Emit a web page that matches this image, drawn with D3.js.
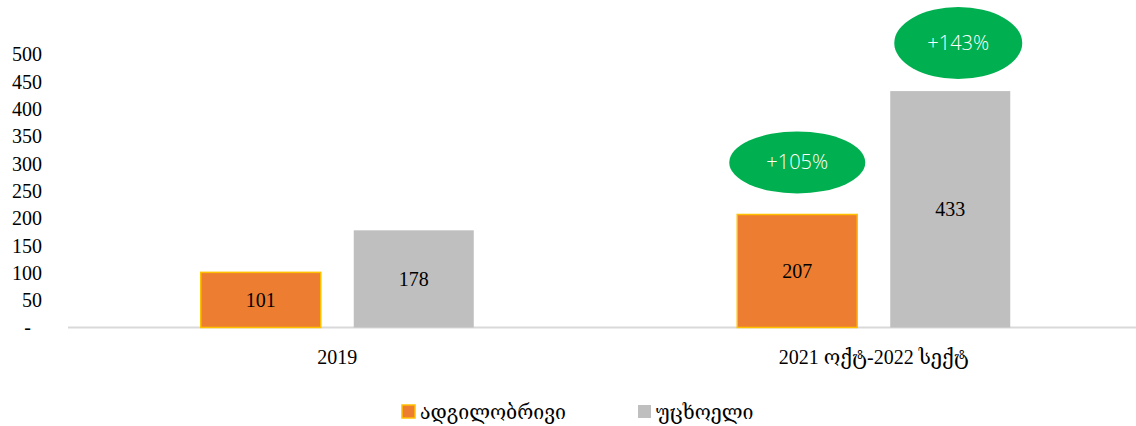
<!DOCTYPE html>
<html><head><meta charset="utf-8">
<script src="https://cdn.jsdelivr.net/npm/d3@7"></script>
<style>body{margin:0;background:#fff}</style>
</head><body>
<svg id="c" width="1136" height="426"></svg>
<script>
const categories = ["2019", "2021 ოქტ-2022 სექტ"];
const seriesNames = ["ადგილობრივი", "უცხოელი"];
const localValues = [101, 207];
const foreignValues = [178, 433];
const growthLabels = ["+105%", "+143%"];
const yTicks = [0, 50, 100, 150, 200, 250, 300, 350, 400, 450, 500];

const colors = ["#ED7D31", "#BFBFBF"];
const strokes = ["#FFC000", "#BFBFBF"];
const serif = "'Liberation Serif','DejaVu Serif',serif";

const svg = d3.select("#c");
const x0 = d3.scaleBand().domain(categories).range([69, 1142]).paddingInner(0).paddingOuter(0);
const y = d3.scaleLinear().domain([0, 500]).range([327.5, 54.5]);
const barW = 120, gap = 33;

// axis line
svg.append("line").attr("x1", 68).attr("x2", 1136).attr("y1", y(0)).attr("y2", y(0))
  .attr("stroke", "#D9D9D9").attr("stroke-width", 2);

// y axis
const yAxis = d3.axisLeft(y).tickValues(yTicks).tickSize(0).tickPadding(0)
  .tickFormat(d => d === 0 ? "-" : d);
const yg = svg.append("g").attr("transform", "translate(42,0)").call(yAxis);
yg.select(".domain").remove();
yg.selectAll("text").attr("font-family", serif).attr("font-size", 20).attr("fill", "#000")
  .attr("dx", d => d === 0 ? -11 : 0);

const data = categories.map((c, i) => ({c, vals: [localValues[i], foreignValues[i]]}));

data.forEach((d, i) => {
  const cx = x0(d.c) + x0.bandwidth() / 2;
  d.vals.forEach((v, s) => {
    const bx = cx + (s === 0 ? -(gap / 2 + barW) : gap / 2);
    svg.append("rect").attr("x", bx).attr("y", y(v)).attr("width", barW).attr("height", y(0) - y(v))
      .attr("fill", colors[s]).attr("stroke", s === 0 ? strokes[s] : "none").attr("stroke-width", 1.5);
    svg.append("text").attr("x", bx + barW / 2).attr("y", (y(v) + y(0)) / 2).attr("dy", "0.35em")
      .attr("text-anchor", "middle").attr("font-family", serif).attr("font-size", 20).text(v);
  });
  svg.append("text").attr("x", cx).attr("y", 357).attr("dy", "0.35em").attr("text-anchor", "middle")
    .attr("font-family", serif).attr("font-size", 20).text(d.c);
});

// growth ellipses over second category
const c2 = x0(categories[1]) + x0.bandwidth() / 2;
const ell = [
  {x: c2 - gap / 2 - barW / 2, v: localValues[1], rx: 68, ry: 31, off: 52, lab: growthLabels[0]},
  {x: c2 + gap / 2 + barW / 2 + 8, v: foreignValues[1], rx: 64, ry: 36, off: 48, lab: growthLabels[1]}
];
ell.forEach(e => {
  const ey = y(e.v) - e.off;
  svg.append("ellipse").attr("cx", e.x).attr("cy", ey).attr("rx", e.rx).attr("ry", e.ry).attr("fill", "#00B050");
  svg.append("text").attr("x", e.x).attr("y", ey).attr("dy", "0.35em").attr("text-anchor", "middle")
    .attr("font-family", "'Open Sans',sans-serif").attr("font-weight", 300).attr("font-size", 20)
    .attr("fill", "#fff").text(e.lab);
});

// legend
const legX = [402, 638];
seriesNames.forEach((n, s) => {
  svg.append("rect").attr("x", legX[s]).attr("y", 405).attr("width", 13).attr("height", 13)
    .attr("fill", colors[s]).attr("stroke", s === 0 ? strokes[s] : "none").attr("stroke-width", 1.5);
  svg.append("text").attr("x", legX[s] + 18).attr("y", 412).attr("dy", "0.35em")
    .attr("font-family", serif).attr("font-size", 19.5).text(n);
});
</script>
</body></html>
